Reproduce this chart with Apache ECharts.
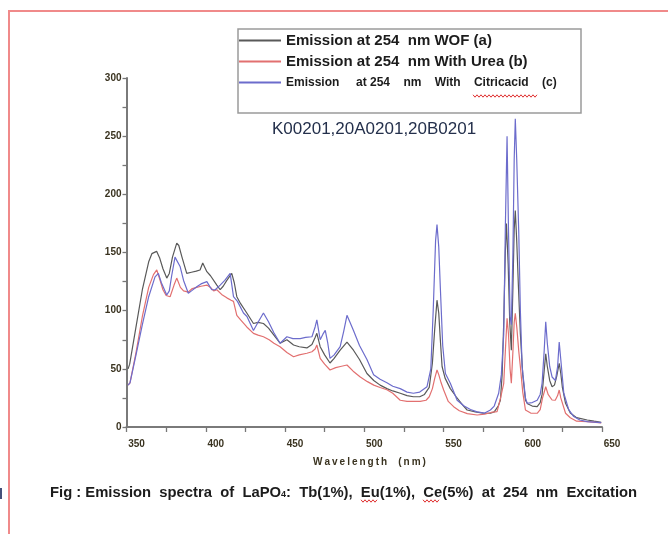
<!DOCTYPE html>
<html><head><meta charset="utf-8">
<script src="https://cdn.jsdelivr.net/npm/echarts@6/dist/echarts.min.js"></script>
<style>html,body{margin:0;padding:0;background:#fff}#c{width:668px;height:534px}</style>
</head><body><div id="c"></div>
<script>
// ---- data (wavelength nm, intensity) ----
const seriesNames = [
  'Emission at 254  nm WOF (a)',
  'Emission at 254  nm With Urea (b)',
  'Emission     at 254    nm    With    Citricacid    (c)'
];
const xLabelValues = [350, 400, 450, 500, 550, 600, 650];
const yLabelValues = [0, 50, 100, 150, 200, 250, 300];

const emissionWOF = [
  [351,50],[352,54],[356,86],[360,118],[364,142],[366,149],[369,151],[371,145],[373,136],[375.4,128],
  [377,132],[379,146],[381.7,158],[383,156],[385,146],[388,132],[391,133],[394,134],[396.4,135],[398.1,141],
  [400.7,133.5],[403,130],[407,122],[409.1,118],[411,121],[413.3,126],[416.4,132],[418,124],[419.6,112],[422,106],
  [425.9,98],[430.1,89],[433,90],[436.4,89],[439.6,85],[443,79],[446.9,72],[451.2,75],[455.4,70.5],[459,69],
  [463.8,68],[467,71],[469,77],[470.1,80.5],[472.2,69],[475,62],[478.4,55],[481,59],[484.8,66],[489.1,73],
  [493.2,66],[497,58],[501.7,46],[506,40],[510,36],[514.3,33],[518,31],[522.7,29],[527,27],[531,26],
  [535,26],[538,28],[541,34],[543,55],[544.5,85],[545.9,109],[547,98],[548,75],[549.1,52],[551,42],
  [554.3,33],[558,26],[562,19],[564.9,14.6],[570,13],[575,12],[579.6,11.8],[582,13],[584.5,18],[585.9,23],
  [587,45],[588,90],[589,150],[589.7,175],[590.8,140],[591.8,90],[592.8,66],[593.8,120],[594.6,170],[595.3,186],
  [596.2,160],[597.3,120],[598.5,80],[600,45],[601.7,23],[603,20],[606,18],[609.1,17.5],[611,21],[612.2,28],
  [613.5,48],[614.5,63],[615.5,52],[617,40],[618.5,34.6],[620,36],[621.5,44],[623,54.8],[624,46],[625,34],
  [627,20.4],[630,12],[634,8],[640.7,6],[645,5],[649.5,4]
];
const emissionUrea = [
  [351,36],[352.2,38],[356,64],[360,95],[364,120],[367,131],[369.1,135],[371,127],[373,118],[375,113],
  [377.5,112],[380,122],[381.7,128],[384,120],[386,117],[389,116],[391.5,119],[394.3,120],[397,121],[400.7,122],
  [403,120],[405,117],[407,118],[410,114],[413.3,111],[416,109],[417.5,108],[419.6,96],[422,92],[425.9,86],
  [430.1,80.5],[433,79],[436.4,77.6],[440,75],[443,72],[446.9,69],[451.2,64],[455.4,60.4],[459,62],[463.8,63.4],
  [467,64.7],[469,67],[470.1,70.5],[472.2,59],[475,54],[478.4,49],[482,51],[485,52],[489.1,53.3],[493,48],
  [497.5,43],[502,39],[506,36],[510,34],[514.3,32],[518,29],[522.7,23],[527,22],[531,22],[535.3,22],
  [539,23],[541,26],[543,33],[544.5,42],[545.9,49],[547,45],[548.5,38],[550.1,31.8],[553,22],[556.4,17.5],
  [560,14],[565,11.5],[571.2,10.3],[576,11],[580,12.5],[583.8,13.2],[586,25],[588,37.6],[589.2,70],[590.1,93.5],
  [591,80],[592,50],[592.8,37.6],[593.8,65],[594.6,90],[595.3,97.8],[596.3,85],[597.5,65],[598.5,51.8],[600,30],
  [601.7,14.6],[605,12],[609.1,11.8],[611,15],[612.5,25],[614.5,34.6],[616,28],[618.5,23.2],[620.5,23],[622,27],
  [623,31.8],[624,25],[627,11.8],[630,8],[634,5],[640.7,4.6],[649.5,3.5]
];
const emissionCitric = [
  [351,36],[352.2,38],[356,62],[360,88],[364,112],[368,129],[370.1,132],[372,124],[375.4,113.5],[377,117],
  [378.5,130],[380.6,146],[383.8,138],[386,126],[389,115],[391,117],[394.3,120.6],[397,123],[400.7,125],[403.8,118],
  [406,118],[409.1,122],[412,126],[415.4,132],[416.3,133],[417.5,112],[420,108],[423.8,98],[426,95],[430.1,83],
  [433,90],[436.4,98],[439.6,90.5],[443,81],[446.9,72],[451.2,77.6],[455,76],[459.6,76],[463,77],[467,77.6],
  [469,86],[470.1,92],[472.2,75],[474,80],[475.4,83],[477,72],[478.4,59],[481,62],[484.8,69],[487,82],
  [489.1,96],[491,90],[493.2,83],[497,70],[501.7,58],[505.9,45],[510,41],[514.3,38],[518,35],[522.7,33],
  [527,30],[531,29],[535,30],[539.6,34.6],[542,50],[543.5,100],[545,160],[545.9,174],[547,155],[548,120],
  [549.5,70],[551.2,46],[554.3,37.6],[558.6,23],[563,18],[567,15],[571.2,13],[576,12],[579.6,14.6],[582,18],
  [584.8,29],[586.5,45],[588,80],[589,170],[590.1,250],[591,170],[592,95],[592.8,88],[593.8,150],[594.6,230],
  [595.3,265],[596.2,230],[597.5,166],[598.5,100],[599.6,52],[601.7,25],[602.8,20.4],[606,21],[609.1,23],[611,28],
  [612.2,37.6],[613.5,65],[614.5,90.5],[615.5,72],[617,52],[618.5,43],[620.6,40],[622,52],[623,73],[624,58],
  [625.9,29],[629,15],[632.2,9],[636,6],[640.7,4.6],[649.5,3.7]
];

const colors = ['#595959', '#e27070', '#6c6ccc'];
const FONT = 'Liberation Sans, Arial, sans-serif';

const chart = echarts.init(document.getElementById('c'), null, {renderer: 'canvas'});

function mkSeries(name, data, color) {
  return {
    name: name, type: 'line', data: data, showSymbol: false, symbol: 'none',
    lineStyle: {color: color, width: 1.2}, itemStyle: {color: color},
    emphasis: {disabled: true}, animation: false
  };
}

// decorative spell-check squiggle (not data)
function squiggle(x0, x1, y) {
  const pts = [];
  let up = true;
  for (let x = x0; x <= x1; x += 2) { pts.push([x, up ? y - 1.2 : y + 1.2]); up = !up; }
  return {type: 'polyline', silent: true, shape: {points: pts}, style: {stroke: '#e03030', lineWidth: 1, fill: null}};
}

chart.setOption({
  animation: false,
  backgroundColor: '#ffffff',
  grid: {left: 126.5, right: 66, top: 78, bottom: 107, containLabel: false},
  xAxis: {
    type: 'value', min: 350, max: 650, interval: 25,
    axisLine: {show: true, lineStyle: {color: '#7a7a7a', width: 2}},
    axisTick: {show: true, length: 5, lineStyle: {color: '#777', width: 1.3}},
    splitLine: {show: false},
    axisLabel: {
      formatter: v => (xLabelValues.indexOf(v) >= 0 ? String(v) : ''),
      fontFamily: FONT, fontWeight: 'bold', fontSize: 10, color: '#3a3320',
      margin: 12, padding: [0, 0, 0, 20]
    }
  },
  yAxis: {
    type: 'value', min: 0, max: 300, interval: 25,
    axisLine: {show: true, lineStyle: {color: '#7a7a7a', width: 2}},
    axisTick: {show: true, length: 4, lineStyle: {color: '#777', width: 1.3}},
    splitLine: {show: false},
    axisLabel: {
      formatter: v => (yLabelValues.indexOf(v) >= 0 ? String(v) : ''),
      fontFamily: FONT, fontWeight: 'bold', fontSize: 10, color: '#3a3320', margin: 5
    }
  },
  legend: {
    show: true, orient: 'vertical', left: 238, top: 30, padding: 0,
    itemWidth: 42, itemHeight: 14, itemGap: 0, selectedMode: false,
    itemStyle: {opacity: 0},
    textStyle: {fontFamily: FONT, fontWeight: 'bold', fontSize: 15, lineHeight: 21, color: '#1c1c1c'},
    data: [
      {name: seriesNames[0]},
      {name: seriesNames[1]},
      {name: seriesNames[2], textStyle: {fontSize: 12, lineHeight: 21}}
    ]
  },
  graphic: [
    {type: 'polyline', silent: true, shape: {points: [[9, 534], [9, 11], [668, 11]]},
     style: {stroke: '#f08a8a', lineWidth: 2, fill: null}},
    {type: 'rect', silent: true, shape: {x: 238, y: 29, width: 343, height: 84},
     style: {stroke: '#9a9a9a', lineWidth: 1.5, fill: null}, z: -1},
    {type: 'text', silent: true, left: 272, top: 121,
     style: {text: 'K00201,20A0201,20B0201', font: '17px ' + FONT, fill: '#24304c'}},
    {type: 'text', silent: true, left: 313, top: 457,
     style: {text: 'W\u2009a\u2009v\u2009e\u2009l\u2009e\u2009n\u2009g\u2009t\u2009h    (\u2009n\u2009m\u2009)', font: 'bold 10px ' + FONT, fill: '#3a3320'}},
    {type: 'text', silent: true, left: 50, top: 485,
     style: {
       text: '{m|Fig : Emission  spectra  of  LaPO}{s|4}{m|:  Tb(1%),  Eu(1%),  Ce(5%)  at  254  nm  Excitation}',
       rich: {
         m: {font: 'bold 14.8px ' + FONT, fill: '#1c1c1c'},
         s: {font: 'bold 9px ' + FONT, fill: '#1c1c1c', padding: [5, 0, 0, 0]}
       }
     }},
    squiggle(473, 537, 96),
    squiggle(361, 377, 501),
    squiggle(423, 440, 501),
    {type: 'rect', silent: true, shape: {x: 0, y: 488, width: 2, height: 11}, style: {fill: '#44507a'}}
  ],
  series: [
    mkSeries(seriesNames[0], emissionWOF, colors[0]),
    mkSeries(seriesNames[1], emissionUrea, colors[1]),
    mkSeries(seriesNames[2], emissionCitric, colors[2])
  ]
});
</script>
</body></html>
